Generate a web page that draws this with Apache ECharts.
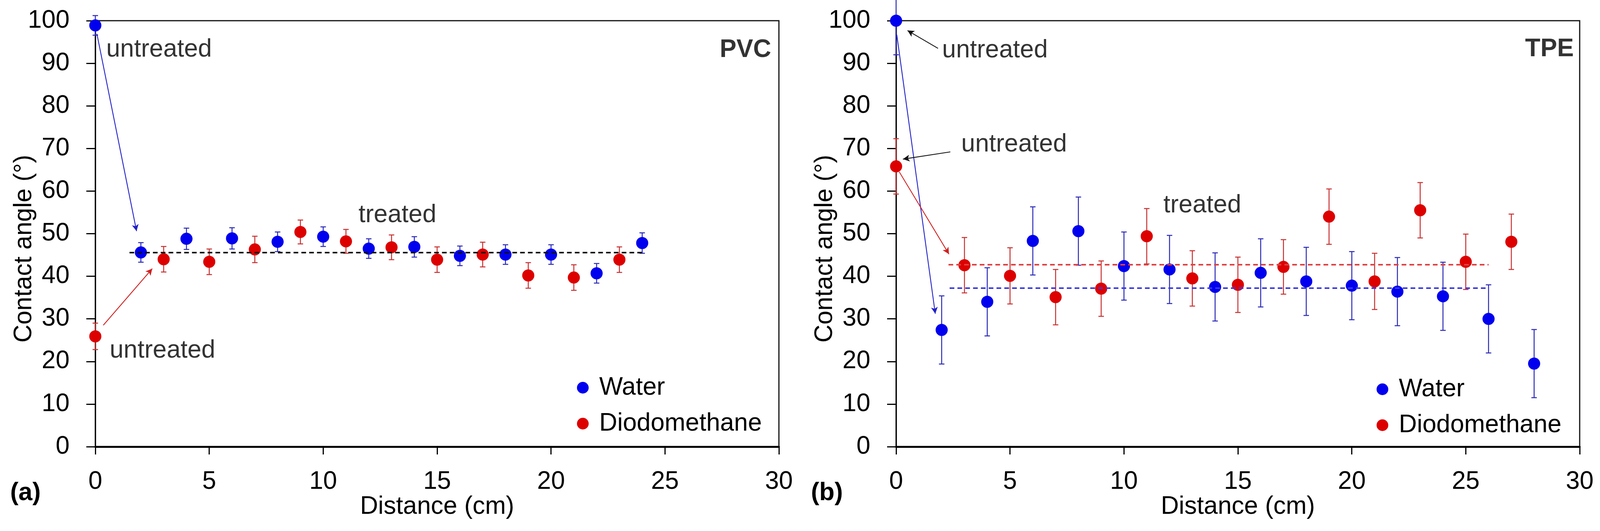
<!DOCTYPE html>
<html>
<head>
<meta charset="utf-8">
<script src="https://cdn.jsdelivr.net/npm/echarts@6/dist/echarts.min.js"></script>
<style>html,body{margin:0;padding:0;background:#fff}#c{width:4097px;height:1360px}</style>
</head>
<body>
<div id="c"></div>
<script>
// ---- data ----
const xTicks = [0, 5, 10, 15, 20, 25, 30];
const yTicks = [0, 10, 20, 30, 40, 50, 60, 70, 80, 90, 100];

// (a) PVC
const pvcWaterX = [0, 2, 4, 6, 8, 10, 12, 14, 16, 18, 20, 22, 24];
const pvcWaterY = [98.9, 45.6, 48.8, 48.9, 48.1, 49.3, 46.5, 46.9, 44.8, 45.1, 45.1, 40.7, 47.8];
const pvcWaterErr = [2.3, 2.3, 2.5, 2.5, 2.3, 2.3, 2.3, 2.4, 2.3, 2.3, 2.3, 2.3, 2.4];
const pvcDiiodoX = [0, 3, 5, 7, 9, 11, 13, 15, 17, 19, 21, 23];
const pvcDiiodoY = [25.9, 44.0, 43.4, 46.3, 50.4, 48.2, 46.8, 43.9, 45.1, 40.2, 39.7, 43.9];
const pvcDiiodoErr = [3.1, 3.0, 3.0, 3.1, 2.8, 2.8, 2.9, 3.0, 2.9, 3.0, 3.0, 3.0];
const pvcMean = 45.6;

// (b) TPE
const tpeWaterX = [0, 2, 4, 6, 8, 10, 12, 14, 16, 18, 20, 22, 24, 26, 28];
const tpeWaterY = [100, 27.4, 34.0, 48.3, 50.6, 42.4, 41.6, 37.5, 40.8, 38.8, 37.8, 36.4, 35.3, 30.0, 19.5];
const tpeWaterErr = [8, 8, 8, 8, 8, 8, 8, 8, 8, 8, 8, 8, 8, 8, 8];
const tpeDiiodoX = [0, 3, 5, 7, 9, 11, 13, 15, 17, 19, 21, 23, 25, 27];
const tpeDiiodoY = [65.8, 42.6, 40.1, 35.1, 37.1, 49.4, 39.5, 38.0, 42.2, 54.0, 38.8, 55.5, 43.4, 48.1];
const tpeDiiodoErr = [6.5, 6.5, 6.6, 6.5, 6.5, 6.5, 6.5, 6.5, 6.4, 6.5, 6.6, 6.5, 6.5, 6.5];
const tpeWaterMean = 37.2;
const tpeDiiodoMean = 42.7;

const seriesNames = ['Water', 'Diodomethane'];

// ---- styling ----
const FONT = 'Liberation Sans';
const FS = 64;
const TXT = '#000';
const BLUE = '#0000ee';
const RED = '#dd0000';
const BLUE_ERR = '#2a2ab8';
const RED_ERR = '#c83030';

const GRID_TOP = 53, GRID_H = 1091, GRID_W = 1750;
const GRID_LEFTS = [244, 2294];

function xAxisCfg(i) {
  return {
    gridIndex: i, type: 'value', min: 0, max: 30, interval: 5,
    axisLine: { show: true, onZero: false, lineStyle: { color: '#000', width: 5 } },
    axisTick: { show: true, inside: false, length: 20, lineStyle: { color: '#000', width: 3 } },
    axisLabel: { show: true, margin: 58, fontFamily: FONT, fontSize: FS, color: TXT,
      formatter: v => xTicks.includes(v) ? String(v) : '' },
    splitLine: { show: false }
  };
}
function yAxisCfg(i) {
  return {
    gridIndex: i, type: 'value', min: 0, max: 100, interval: 10,
    axisLine: { show: true, onZero: false, lineStyle: { color: '#000', width: 3 } },
    axisTick: { show: true, inside: false, length: 23, lineStyle: { color: '#000', width: 3 } },
    axisLabel: { show: true, margin: 66, fontFamily: FONT, fontSize: FS, color: TXT,
      formatter: v => yTicks.includes(v) ? String(v) : '' },
    splitLine: { show: false }
  };
}

function errSeries(i, name, xs, ys, es, color) {
  return {
    type: 'custom', name: name + ' error', xAxisIndex: i, yAxisIndex: i, z: 2, silent: true,
    itemStyle: { color: color },
    data: xs.map((x, k) => [x, ys[k] - es[k], ys[k] + es[k]]),
    encode: { x: 0, y: [1, 2] },
    renderItem: function (params, api) {
      const x = api.value(0), lo = api.value(1), hi = api.value(2);
      const a = api.coord([x, lo]), b = api.coord([x, hi]);
      const cw = 7;
      const st = { stroke: color, lineWidth: 2.5 };
      return { type: 'group', children: [
        { type: 'line', shape: { x1: a[0], y1: a[1], x2: b[0], y2: b[1] }, style: st },
        { type: 'line', shape: { x1: a[0] - cw, y1: a[1], x2: a[0] + cw, y2: a[1] }, style: st },
        { type: 'line', shape: { x1: b[0] - cw, y1: b[1], x2: b[0] + cw, y2: b[1] }, style: st }
      ] };
    }
  };
}

function arrow(from, to, color) {
  return [{ coord: from, lineStyle: { color: color, width: 2.2, type: 'solid' } }, { coord: to }];
}
function hline(x1, x2, y, color) {
  return [{ coord: [x1, y], symbol: 'none', lineStyle: { color: color, width: 4, type: [12, 8] } }, { coord: [x2, y], symbol: 'none' }];
}

function scatterSeries(i, name, xs, ys, color, markLines) {
  const s = {
    type: 'scatter', name: name, xAxisIndex: i, yAxisIndex: i, z: 3,
    symbol: 'circle', symbolSize: 31,
    itemStyle: { color: color, opacity: 1 },
    data: xs.map((x, k) => [x, ys[k]])
  };
  if (markLines) {
    s.markLine = {
      silent: true, symbol: ['none', 'arrow'], symbolSize: [13, 17],
      label: { show: false }, animation: false,
      data: markLines
    };
  }
  return s;
}

function textSeries(i, items) {
  return {
    type: 'scatter', name: 'annotations', xAxisIndex: i, yAxisIndex: i, z: 4,
    symbolSize: 0, silent: true,
    data: items.map(t => ({
      value: [t.x, t.y],
      label: { show: true, formatter: t.text, position: t.pos, distance: 0,
        fontFamily: FONT, fontSize: t.size || FS, fontWeight: t.bold ? 'bold' : 'normal', color: TXT }
    }))
  };
}

function legendCfg(left, top) {
  return {
    data: seriesNames, orient: 'vertical', left: left, top: top,
    icon: 'circle', itemWidth: 30, itemHeight: 30, itemGap: 28,
    textStyle: { fontFamily: FONT, fontSize: FS, lineHeight: 64, color: TXT, padding: [0, 0, 0, 22] },
    selectedMode: false
  };
}

const option = {
  animation: false,
  backgroundColor: '#fff',
  grid: GRID_LEFTS.map(l => ({ left: l, top: GRID_TOP, width: GRID_W, height: GRID_H,
    show: true, borderColor: '#111', borderWidth: 3, backgroundColor: 'transparent' })),
  xAxis: [xAxisCfg(0), xAxisCfg(1)],
  yAxis: [yAxisCfg(0), yAxisCfg(1)],
  legend: [legendCfg(1472, 956), legendCfg(3519, 960)],
  series: [
    // (a) PVC
    errSeries(0, 'Water', pvcWaterX, pvcWaterY, pvcWaterErr, BLUE_ERR),
    errSeries(0, 'Diodomethane', pvcDiiodoX, pvcDiiodoY, pvcDiiodoErr, RED_ERR),
    scatterSeries(0, 'Water', pvcWaterX, pvcWaterY, BLUE, [
      arrow([0.07, 96.9], [1.81, 50.6], '#2020c8'),
      hline(1.5, 24, pvcMean, '#111')
    ]),
    scatterSeries(0, 'Diodomethane', pvcDiiodoX, pvcDiiodoY, RED, [
      arrow([0.35, 28.5], [2.5, 41.8], '#d02020')
    ]),
    textSeries(0, [
      { text: 'untreated', x: 0.48, y: 93.2, pos: 'right' },
      { text: 'untreated', x: 0.63, y: 22.5, pos: 'right' },
      { text: 'treated', x: 11.55, y: 54.3, pos: 'right' },
      { text: 'PVC', x: 29.66, y: 93.1, pos: 'left', bold: true }
    ]),
    // (b) TPE
    errSeries(1, 'Water', tpeWaterX, tpeWaterY, tpeWaterErr, BLUE_ERR),
    errSeries(1, 'Diodomethane', tpeDiiodoX, tpeDiiodoY, tpeDiiodoErr, RED_ERR),
    scatterSeries(1, 'Water', tpeWaterX, tpeWaterY, BLUE, [
      arrow([0.03, 96.7], [1.72, 31.2], '#2020c8'),
      hline(2.35, 26, tpeWaterMean, '#3a3ae0'),
      arrow([1.84, 93.5], [0.5, 97.7], '#111'),
      arrow([2.38, 69.2], [0.3, 67.5], '#111')
    ]),
    scatterSeries(1, 'Diodomethane', tpeDiiodoX, tpeDiiodoY, RED, [
      arrow([0.14, 64.5], [2.32, 45.2], '#d02020'),
      hline(2.3, 26, tpeDiiodoMean, '#e04040')
    ]),
    textSeries(1, [
      { text: 'untreated', x: 2.02, y: 93.0, pos: 'right' },
      { text: 'untreated', x: 2.86, y: 70.9, pos: 'right' },
      { text: 'treated', x: 11.73, y: 56.6, pos: 'right' },
      { text: 'TPE', x: 29.74, y: 93.3, pos: 'left', bold: true }
    ])
  ],
  graphic: [
    { type: 'text', x: 62, y: 637, rotation: Math.PI / 2,
      style: { text: 'Contact angle (°)', font: FS + 'px "' + FONT + '"', fill: TXT, align: 'center', verticalAlign: 'middle' } },
    { type: 'text', x: 2112, y: 637, rotation: Math.PI / 2,
      style: { text: 'Contact angle (°)', font: FS + 'px "' + FONT + '"', fill: TXT, align: 'center', verticalAlign: 'middle' } },
    { type: 'text', x: 1119, y: 1298,
      style: { text: 'Distance (cm)', font: FS + 'px "' + FONT + '"', fill: TXT, align: 'center', verticalAlign: 'middle' } },
    { type: 'text', x: 3169, y: 1298,
      style: { text: 'Distance (cm)', font: FS + 'px "' + FONT + '"', fill: TXT, align: 'center', verticalAlign: 'middle' } },
    { type: 'text', x: 26, y: 1263,
      style: { text: '(a)', font: 'bold ' + FS + 'px "' + FONT + '"', fill: TXT, align: 'left', verticalAlign: 'middle' } },
    { type: 'text', x: 2076, y: 1263,
      style: { text: '(b)', font: 'bold ' + FS + 'px "' + FONT + '"', fill: TXT, align: 'left', verticalAlign: 'middle' } }
  ]
};

const chart = echarts.init(document.getElementById('c'), null, { renderer: 'canvas' });
chart.setOption(option);
</script>
</body>
</html>
